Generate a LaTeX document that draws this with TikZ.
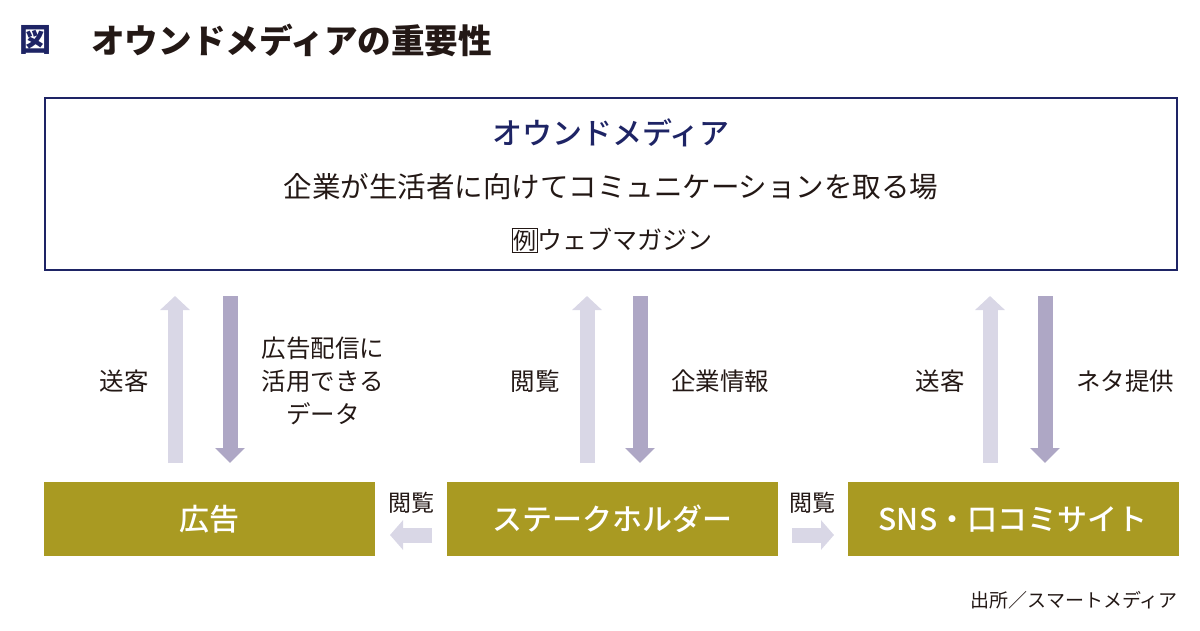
\documentclass[tikz,border=0pt]{standalone}
\usepackage{fontspec}
\setmainfont{Noto Sans CJK JP}
\newfontfamily\jpmed{Noto Sans CJK JP}[UprightFont={* Medium}]
\usetikzlibrary{arrows.meta}
\definecolor{navy}{HTML}{1E2465}
\definecolor{olive}{HTML}{A99A22}
\definecolor{lightarr}{HTML}{D9D7E6}
\definecolor{darkarr}{HTML}{AEA7C5}
\definecolor{ink}{HTML}{231815}
\begin{document}
\begin{tikzpicture}[x=1pt, y=-1pt,
    lbl/.style={inner sep=0pt, text=ink, font=\fontsize{24.5}{33}\selectfont},
    olivebox/.style={fill=olive, minimum width=331pt, minimum height=74pt, inner sep=0pt,
      text=white, font=\fontsize{30}{36}\selectfont\jpmed},
    uparr/.style={draw=lightarr, line width=15pt, -{Triangle[width=29pt,length=14pt]}},
    downarr/.style={draw=darkarr, line width=15pt, -{Triangle[width=29pt,length=15pt]}},
    sidearr/.style={draw=lightarr, line width=15pt, -{Triangle[width=29pt,length=13pt]}}]
      \useasboundingbox (0,0) rectangle (1200,630);
      % title
      \node[anchor=west, inner sep=0pt, text=navy, font=\fontsize{32}{36}\selectfont\bfseries] (fig) at (19,40){図};
      \node[anchor=west, inner sep=0pt, text=ink, font=\fontsize{33.6}{36}\selectfont\bfseries] (title) at (91,40){オウンドメディアの重要性};
      % owned media box
      \node[draw=navy, line width=2.8pt, minimum width=1132pt, minimum height=172pt, inner sep=0pt] (om) at (611,184){};
      \node[inner sep=0pt, text=navy, font=\fontsize{30}{36}\selectfont\jpmed] (omname) at (611,133){オウンドメディア};
      \node[lbl, font=\fontsize{28.5}{34}\selectfont] (omtext) at (611,187){企業が生活者に向けてコミュニケーションを取る場};
      \node[lbl, font=\fontsize{25}{30}\selectfont] (omex) at (612,240){{\setlength\fboxsep{0.6pt}\setlength\fboxrule{0.9pt}\fbox{\fontsize{23}{24}\selectfont 例}}ウェブマガジン};
      % bottom boxes
      \node[olivebox] (ad) at (209.5,519){広告};
      \node[olivebox] (sh) at (612,519){ステークホルダー};
      \node[olivebox] (sns) at (1013,519){SNS・口コミサイト};
      % vertical arrows
      \coordinate (adup1) at (175,463);  \coordinate (adup2) at (175,296);
      \coordinate (addn1) at (230,296);  \coordinate (addn2) at (230,463);
      \coordinate (shup1) at (587,463);  \coordinate (shup2) at (587,296);
      \coordinate (shdn1) at (640,296);  \coordinate (shdn2) at (640,463);
      \coordinate (snsup1) at (990,463); \coordinate (snsup2) at (990,296);
      \coordinate (snsdn1) at (1045,296);\coordinate (snsdn2) at (1045,463);
      \draw[uparr] (adup1) -- (adup2);
      \draw[downarr] (addn1) -- (addn2);
      \draw[uparr] (shup1) -- (shup2);
      \draw[downarr] (shdn1) -- (shdn2);
      \draw[uparr] (snsup1) -- (snsup2);
      \draw[downarr] (snsdn1) -- (snsdn2);
      \node[lbl] (adl) at (124,381){送客};
      \node[lbl, align=center] (adr) at (323,381){広告配信に\\活用できる\\データ};
      \node[lbl] (shl) at (535,381){閲覧};
      \node[lbl] (shr) at (720,381){企業情報};
      \node[lbl] (snsl) at (940,381){送客};
      \node[lbl] (snsr) at (1125,381){ネタ提供};
      % side arrows
      \coordinate (left1) at (432,535);  \coordinate (left2) at (390,535);
      \coordinate (right1) at (792,535); \coordinate (right2) at (834,535);
      \draw[sidearr] (left1) -- (left2);
      \draw[sidearr] (right1) -- (right2);
      \node[lbl, font=\fontsize{23}{28}\selectfont] (leftl) at (411,503){閲覧};
      \node[lbl, font=\fontsize{23}{28}\selectfont] (rightl) at (812,503){閲覧};
      % source
      \node[lbl, anchor=east, font=\fontsize{19}{22}\selectfont] (src) at (1178,600){出所／スマートメディア};
\end{tikzpicture}
\end{document}
